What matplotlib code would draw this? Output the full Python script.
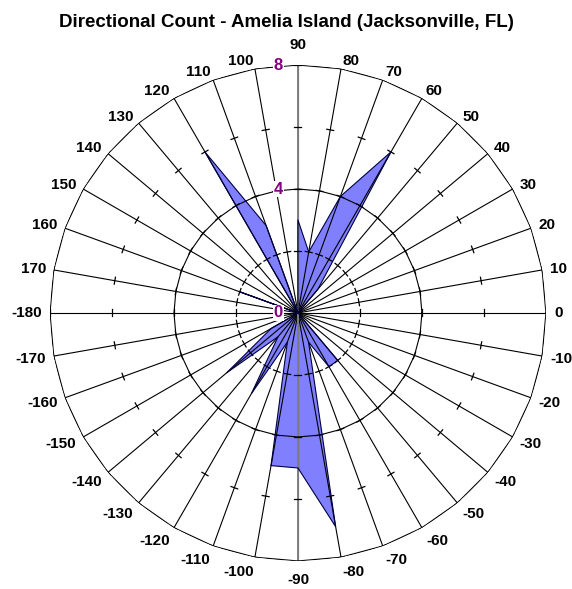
import numpy as np
import matplotlib
matplotlib.use("Agg")
import matplotlib.pyplot as plt

plt.rcParams['font.family'] = ['Liberation Sans', 'DejaVu Sans']

# direction (degrees) and count for each spoke
directions = [0, 10, 20, 30, 40, 50, 60, 70, 80, 90, 100, 110, 120, 130, 140, 150, 160, 170,
              -180, -170, -160, -150, -140, -130, -120, -110, -100, -90, -80, -70, -60, -50, -40, -30, -20, -10]
counts = [0, 0, 0, 0, 0, 1, 6, 4, 2, 3, 0, 3, 6, 0, 0, 0, 2, 0,
          0, 0, 0, 1, 3, 1, 3, 1, 5, 5, 7, 1, 2, 2, 0, 0, 0, 0]
radial_labels = [0, 4, 8]
rmax = 8

fig = plt.figure(figsize=(5.72, 5.89), dpi=100)
ax = fig.add_axes([0.0874, 0.0476, 0.867, 0.842], projection='polar')
ax.set_ylim(0, rmax)
ax.set_axis_off()

theta = np.deg2rad(directions)
th_closed = np.append(theta, theta[0])
c_closed = np.append(counts, counts[0])

# filled data polygon
ax.fill(th_closed, c_closed, facecolor='#8080ff', edgecolor='none', zorder=1)
ax.plot(th_closed, c_closed, color='#000040', lw=0.8, zorder=3)

# spokes
for t in theta:
    ax.plot([t, t], [0, rmax], color='black', lw=0.8, zorder=2)
# value axis
ax.plot([np.pi / 2, np.pi / 2], [0, rmax], color='#808080', lw=1.4, zorder=2)
ax.plot([-np.pi / 2, -np.pi / 2], [0, rmax], color='#808080', lw=1.4, zorder=2)

# polygon gridlines
for g in [4, 8]:
    ax.plot(th_closed, np.full(len(th_closed), g), color='black', lw=0.8, zorder=2)

# tick marks across each spoke
for r in [2, 4, 6, 8]:
    d = 3.5 / (r * 31.0)
    for t in theta:
        ax.plot([t - d, t + d], [r, r], color='black', lw=0.9, zorder=2)

# category labels
for t, lab in zip(theta, directions):
    c, s = np.cos(t), np.sin(t)
    if abs(c) < 0.01:
        ha = 'center'
        va = 'bottom' if s > 0 else 'top'
        dx, dy = 0, (13 if s > 0 else -12)
    else:
        ha = 'left' if c > 0 else 'right'
        va = 'center'
        dx = c * 8
        dy = s * 8 if s > 0 else s * 15
    ax.annotate(str(lab), xy=(t, rmax), xytext=(dx, dy), textcoords='offset pixels',
                ha=ha, va=va, fontsize=11, fontweight='bold')

# radial labels
for v in radial_labels:
    ax.annotate(str(v), xy=(np.pi / 2, v), xytext=(-15, 0), textcoords='offset pixels',
                ha='right', va='center', fontsize=12, fontweight='bold', color='#800080',
                bbox=dict(boxstyle='square,pad=0.05', fc='white', ec='none'), zorder=4)

fig.text(0.5, 0.962, 'Directional Count - Amelia Island (Jacksonville, FL)',
         ha='center', va='center', fontsize=13.5, fontweight='bold')

fig.savefig('out.png', dpi=100)
